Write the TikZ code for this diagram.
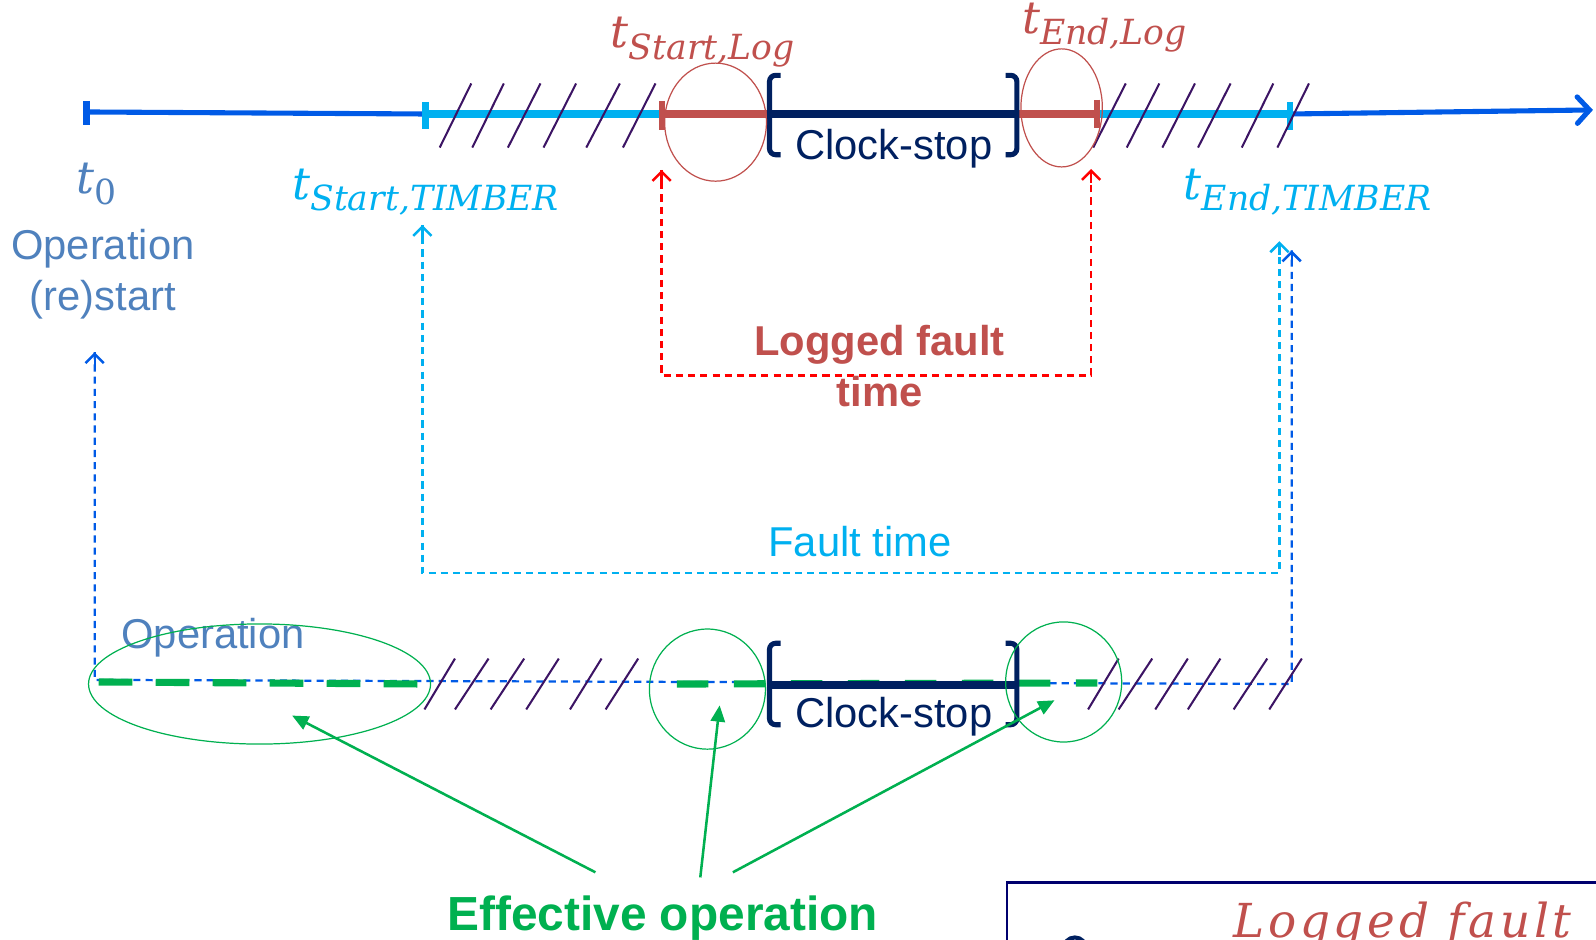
\documentclass[tikz,border=0pt]{standalone}
\usepackage{fontspec}
\setmainfont{Liberation Sans}
\newfontfamily\mfont{DejaVu Serif}
\usetikzlibrary{arrows.meta}
\definecolor{cblue}{RGB}{0,90,230}
\definecolor{lblue}{RGB}{0,176,240}
\definecolor{rbrown}{RGB}{192,80,77}
\definecolor{navyc}{RGB}{0,32,96}
\definecolor{steel}{RGB}{79,129,189}
\definecolor{cgreen}{RGB}{0,176,80}
\definecolor{hatchc}{RGB}{60,20,100}
\definecolor{boxnavy}{RGB}{0,0,110}
\newcommand{\tsym}[1]{{\mfont\itshape\fontsize{44}{48}\selectfont t}\raisebox{-11pt}{\mfont\itshape\fontsize{34}{38}\selectfont #1}}
\tikzset{
  hatch/.style={draw=hatchc, line width=2pt},
  seg/.style={line width=8pt},
  tick/.style={line width=6pt},
  brk/.style={draw=navyc, line width=5pt, rounded corners=6pt},
  dashl/.style={line width=2.2pt, dash pattern=on 7pt off 5pt},
  tipline/.style={solid, line width=2.2pt, {Straight Barb[length=9pt,width=18pt,line width=2.5pt]}-},
  greenarr/.style={draw=cgreen, line width=2.5pt, -{Triangle[length=16pt,width=14pt]}},
  lbl/.style={font=\fontsize{41}{46}\selectfont, inner sep=0pt},
  ell/.style={line width=1.2pt},
}
\begin{document}
\begin{tikzpicture}[x=1pt,y=-1pt]
\useasboundingbox (0,0) rectangle (1568,923);
\clip (0,0) rectangle (1568,923);

% ---------- top timeline ----------
\coordinate (a0) at (85,110);
\coordinate (a1) at (418,112);
\coordinate (a2) at (650,112);
\coordinate (a3) at (755,112);
\coordinate (a4) at (1000,112);
\coordinate (a5) at (1078,112);
\coordinate (a6) at (1267,112);
\coordinate (a7) at (1565,108);

\draw[cblue, line width=5pt] (a0) -- (a1);
\draw[lblue, seg] (a1) -- (a2);
\draw[rbrown, seg] (a2) -- (a3);
\draw[navyc, line width=7pt] (a3) -- (a4);
\draw[rbrown, seg] (a4) -- (a5);
\draw[lblue, seg] (a5) -- (a6);
\draw[cblue, line width=5pt, line cap=round, -{Straight Barb[length=12pt,width=26pt,line cap=round]}] (a6) -- (a7);

\draw[cblue, tick] (85,99) -- (85,123);
\draw[lblue, tick] (418,100) -- (418,127);
\draw[rbrown, tick] (650,99) -- (650,128);
\draw[rbrown, tick] (1078,98) -- (1078,126);
\draw[lblue, tick] (1267,100) -- (1267,128);

% hatches top
\foreach \b/\t in {432/463,464/495,499/531,534/566,576/609,612/644,1074/1106,1107/1139,1142/1174,1177/1209,1220/1251,1255/1286}
  \draw[hatch] (\b,145) -- (\t,82);

% brackets top
\draw[brk] (767,74) -- (756,74) -- (756,152) -- (767,152);
\draw[brk] (988,74) -- (999,74) -- (999,152) -- (988,152);
\node[lbl, anchor=base, text=navyc] (cs1) at (878,157) {Clock-stop};

% red ellipses
\draw[rbrown, ell] (703,120) ellipse [x radius=50pt, y radius=58pt];
\draw[rbrown, ell] (1043,106) ellipse [x radius=40pt, y radius=58pt];

% ---------- labels ----------
\node[anchor=base west, inner sep=0pt, text=steel] (t0) at (75,190) {\tsym{\upshape 0}};
\node[lbl, anchor=base, text=steel] (op1) at (101,255) {Operation};
\node[lbl, anchor=base, text=steel] (op2) at (101,305) {(re)start};
\node[anchor=base west, inner sep=0pt, text=lblue] (tst) at (287,196) {\tsym{Start,TIMBER}};
\node[anchor=base west, inner sep=0pt, text=rbrown] (tsl) at (600,47) {\tsym{Start,Log}};
\node[anchor=base west, inner sep=0pt, text=rbrown] (tel) at (1004,33) {\tsym{End,Log}};
\node[anchor=base west, inner sep=0pt, text=lblue] (tet) at (1163,196) {\tsym{End,TIMBER}};

% ---------- dashed connectors ----------
\coordinate (r1) at (650,167);
\coordinate (r2) at (650,369);
\coordinate (r3) at (1072,369);
\coordinate (r4) at (1072,166);
\draw[red, dashl] (r1) -- (r2) -- (r3) -- (r4);
\draw[red, tipline] (r1) -- ++(0,14);
\draw[red, tipline] (r4) -- ++(0,14);
\node[lbl, anchor=base, text=rbrown, font=\fontsize{41}{46}\selectfont\bfseries] (lft1) at (864,349) {Logged fault};
\node[lbl, anchor=base, text=rbrown, font=\fontsize{41}{46}\selectfont\bfseries] (lft2) at (864,399) {time};

\coordinate (b1) at (415,221);
\coordinate (b2) at (415,563);
\coordinate (b3) at (1257,563);
\coordinate (b4) at (1257,237);
\draw[lblue, dashl] (b1) -- (b2) -- (b3) -- (b4);
\draw[lblue, tipline] (b1) -- ++(0,14);
\draw[lblue, tipline] (b4) -- ++(0,14);
\node[lbl, anchor=base, text=lblue] (ft) at (845,547) {Fault time};

% ---------- bottom line ----------
\coordinate (c1) at (93,346);
\coordinate (c2) at (93,668);
\coordinate (c3) at (1269,672);
\coordinate (c4) at (1269,246);

\draw[cblue, dashl] (c1) -- (c2) -- (c3) -- (c4);
\draw[cblue, tipline] (c1) -- ++(0,14);
\draw[cblue, tipline] (c4) -- ++(0,14);
\draw[cgreen, line width=7pt, dash pattern=on 33pt off 23pt] (97,670) -- (420,672);
\draw[cgreen, line width=7pt, dash pattern=on 31pt off 25pt] (665,672) -- (1078,671);

\draw[navyc, line width=7pt] (755,673) -- (1000,673);
\draw[brk] (767,632) -- (756,632) -- (756,712) -- (767,712);
\draw[brk] (988,632) -- (999,632) -- (999,712) -- (988,712);
\node[lbl, anchor=base, text=navyc] (cs2) at (878,715) {Clock-stop};

\foreach \b/\t in {417/447,447/480,482/515,517/549,560/591,595/627,1069/1099,1099/1132,1135/1167,1167/1199,1212/1245,1247/1279}
  \draw[hatch] (\b,697) -- (\t,647);

\node[lbl, anchor=base west, text=steel] (op3) at (119,637) {Operation};

% green ellipses
\draw[cgreen, ell] (255,672) ellipse [x radius=168pt, y radius=59pt];
\draw[cgreen, ell] (695,677) ellipse [x radius=57pt, y radius=59pt];
\draw[cgreen, ell] (1045,670) ellipse [x radius=57pt, y radius=59pt];

% effective operation
\node[anchor=base, inner sep=0pt, text=cgreen, font=\fontsize{47}{52}\selectfont\bfseries] (eff) at (651,914) {Effective operation};
\coordinate (g1s) at (585,857);
\coordinate (g1e) at (287,703);
\coordinate (g2s) at (688,862);
\coordinate (g2e) at (707,693);
\coordinate (g3s) at (720,857);
\coordinate (g3e) at (1036,688);
\draw[greenarr] (g1s) -- (g1e);
\draw[greenarr] (g2s) -- (g2e);
\draw[greenarr] (g3s) -- (g3e);

% bottom-right box (cut off at the picture's edge, as in the reference)
\draw[boxnavy, line width=2pt] (989,867) rectangle (1620,1000);
\node[anchor=base, inner sep=0pt, text=rbrown] (lfb) at (1378,921) {\mfont\itshape\fontsize{46}{50}\selectfont\addfontfeatures{LetterSpace=8}Logged fault};
\draw[navyc, line width=4pt] (1056,932) circle [radius=11pt];
\end{tikzpicture}
\end{document}
